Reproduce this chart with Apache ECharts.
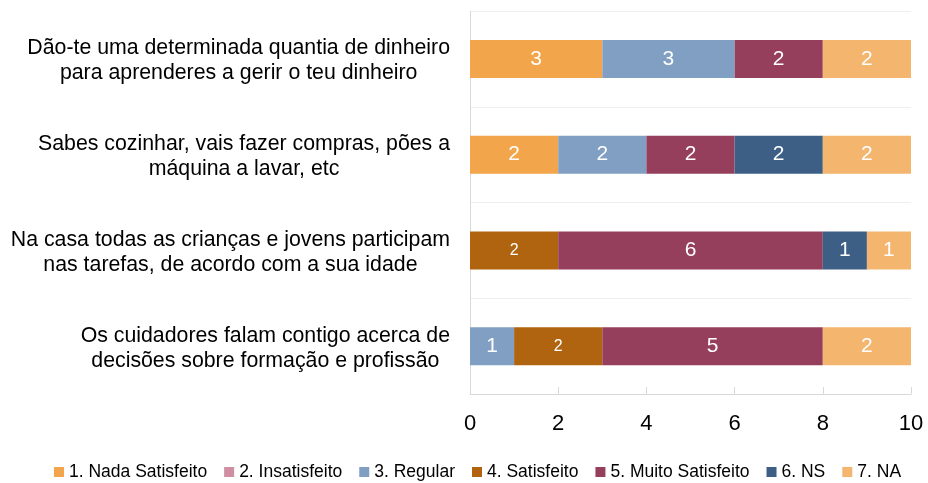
<!DOCTYPE html>
<html>
<head>
<meta charset="utf-8">
<script src="https://cdn.jsdelivr.net/npm/echarts@6/dist/echarts.min.js"></script>
<style>
  html, body { margin: 0; padding: 0; background: #fff; }
  #chart { width: 928px; height: 483px; }
</style>
</head>
<body>
<div id="chart"></div>
<script>
// Statements, listed bottom to top on the category axis
const categories = [
  'Os cuidadores falam contigo acerca de\ndecisões sobre formação e profissão',
  'Na casa todas as crianças e jovens participam\nnas tarefas, de acordo com a sua idade',
  'Sabes cozinhar, vais fazer compras, pões a\nmáquina a lavar, etc',
  'Dão-te uma determinada quantia de dinheiro\npara aprenderes a gerir o teu dinheiro'
];

const seriesNames = [
  '1. Nada Satisfeito', '2. Insatisfeito', '3. Regular', '4. Satisfeito',
  '5. Muito Satisfeito', '6. NS', '7. NA'
];

// Counts per answer, in the same order as categories
const nadaSatisfeito  = [0, 0, 2, 3];
const insatisfeito    = [0, 0, 0, 0];
const regular         = [1, 0, 2, 3];
const satisfeito      = [2, 2, 0, 0];
const muitoSatisfeito = [5, 6, 2, 2];
const ns              = [0, 1, 2, 0];
const na              = [2, 1, 2, 2];

const xTicks = [0, 2, 4, 6, 8, 10];

const seriesValues = [nadaSatisfeito, insatisfeito, regular, satisfeito, muitoSatisfeito, ns, na];
const colors = ['#F2A54A', '#D08EA3', '#809FC3', '#B1640F', '#953F5D', '#3D5F86', '#F4B56E'];
const labelSizes = [21, 21, 21, 16, 21, 21, 21];

const FONT = '"Liberation Sans", Arial, sans-serif';

const chart = echarts.init(document.getElementById('chart'), null, { renderer: 'canvas' });

const series = seriesNames.map((name, i) => ({
  name: name,
  type: 'bar',
  stack: 'total',
  data: seriesValues[i],
  barWidth: 38,
  itemStyle: { color: colors[i] },
  label: {
    show: true,
    position: 'inside',
    color: '#fff',
    fontFamily: FONT,
    fontSize: labelSizes[i],
    formatter: p => (p.value ? String(p.value) : '')
  },
  emphasis: { disabled: true }
}));

chart.setOption({
  animation: false,
  backgroundColor: '#fff',
  grid: { left: 470, right: 17, top: 11, bottom: 89, containLabel: false },
  legend: {
    data: seriesNames,
    left: 54,
    top: 463,
    padding: 0,
    icon: 'rect',
    itemWidth: 10,
    itemHeight: 10,
    itemGap: 17,
    textStyle: { fontFamily: FONT, fontSize: 17.5, color: '#000' },
    selectedMode: false
  },
  xAxis: {
    type: 'value',
    min: xTicks[0],
    max: xTicks[xTicks.length - 1],
    interval: xTicks[1] - xTicks[0],
    axisLine: { show: true, lineStyle: { color: '#D9D9D9', width: 1 } },
    axisTick: { show: true, inside: true, length: 7, lineStyle: { color: '#D9D9D9' } },
    splitLine: { show: false },
    axisLabel: { fontFamily: FONT, fontSize: 22, color: '#000', margin: 19 }
  },
  yAxis: {
    type: 'category',
    data: categories,
    axisLine: { show: true, lineStyle: { color: '#D9D9D9', width: 1 } },
    axisTick: { show: false },
    splitLine: { show: true, lineStyle: { color: '#EEEEEE', width: 1 } },
    axisLabel: {
      margin: 20,
      padding: [4, 0, 0, 0],
      formatter: v => v.split('\n').map(line => '{c|' + line + '}').join('\n'),
      rich: {
        c: { align: 'center', fontFamily: FONT, fontSize: 21.3, lineHeight: 25, color: '#000' }
      }
    }
  },
  series: series
});
</script>
</body>
</html>
